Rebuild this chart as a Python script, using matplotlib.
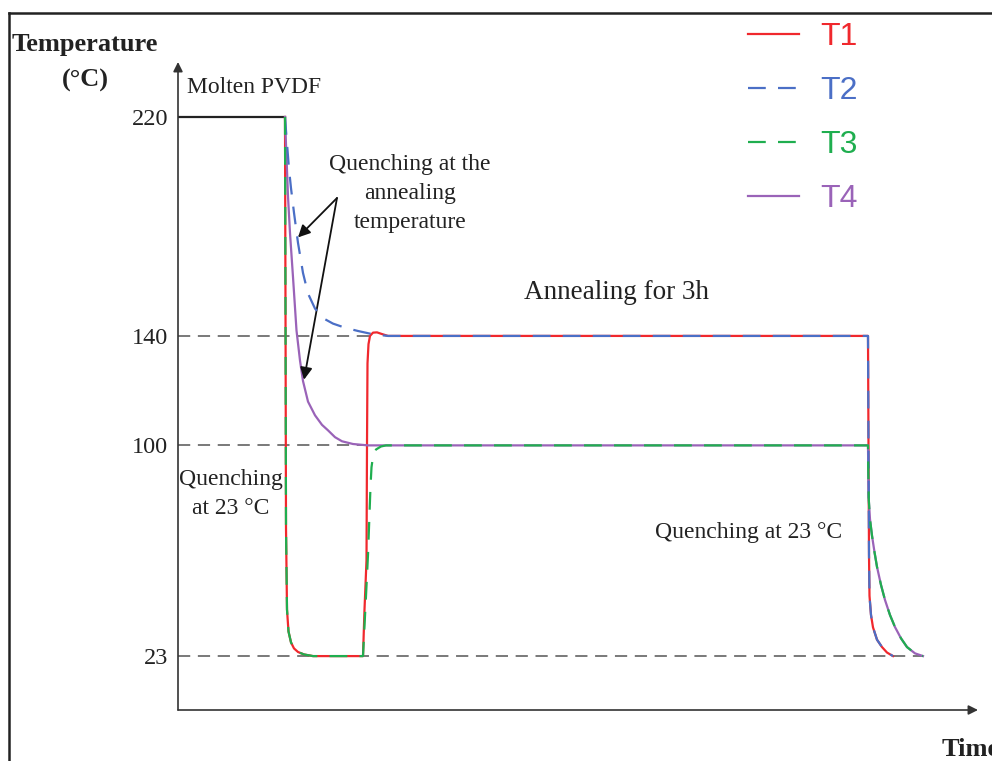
import matplotlib
matplotlib.use("Agg")
import matplotlib.pyplot as plt
from matplotlib.lines import Line2D

# Thermal history of the PVDF samples (arbitrary time units, temperature in °C)
t_molten = [0, 107]
temp_molten = [220, 220]

# melt quenched straight down to 23 °C (T1, T3)
t_quench23 = [107, 107.5, 108, 109, 110.5, 113, 116, 120, 126, 135, 185]
temp_quench23 = [220, 150, 70, 40, 32, 28, 25.8, 24.5, 23.6, 23, 23]

# melt quenched directly to the annealing temperature (T2 -> 140, T4 -> 100)
t_quench140 = [107, 108, 109.5, 111, 113, 116, 120, 125, 130, 137, 145, 155, 167, 180, 195, 210]
temp_quench140 = [220, 215, 208, 201, 194, 185, 174, 163, 155.5, 150, 146.5, 144.5, 143, 141.8, 140.6, 140]
t_quench100 = [107, 108, 110, 112, 115, 118.5, 122, 125, 130, 137, 144, 150, 157, 164, 175, 190]
temp_quench100 = [220, 210, 191, 177.6, 161.5, 142, 131, 123.5, 116, 111, 107.5, 105.5, 103, 101.5, 100.5, 100]

# reheating from 23 °C to the annealing temperature
t_heat140 = [186.5, 188.5, 189, 189.5, 190.5, 192, 195, 199, 203, 210]
temp_heat140 = [40, 58, 100, 130, 137, 140, 141.2, 141.3, 140.8, 140]
t_heat100 = [188, 190, 191.5, 192.5, 193.5, 195, 198, 203, 208]
temp_heat100 = [45, 60, 75, 85, 92, 96, 98.5, 99.6, 100]

# final quench to 23 °C after annealing for 3h
t_final140 = [690, 690.5, 691, 691.5, 693, 695, 699, 704, 709, 715]
temp_final140 = [140, 100, 60, 45, 38, 33.5, 29, 26.3, 24.3, 23]
t_final100 = [690, 690.3, 690.8, 692, 694, 696.5, 699, 703, 707, 712, 717, 723, 729, 737, 745]
temp_final100 = [100, 90, 80, 73, 67, 61, 55.6, 49, 43.5, 38, 33.6, 29.5, 26.3, 24, 23]

# dashed guide lines at the set temperatures
guide_levels = [140, 100, 23]
guide_ends = [197, 190, 745]

ytick_values = [23, 100, 140, 220]
ytick_labels = ["23", "100", "140", "220"]

RED = "#f0282d"
BLUE = "#4b6fc6"
GREEN = "#1fae4f"
PURPLE = "#9a63b8"
INK = "#222222"

plt.rcParams["font.family"] = ["Liberation Serif", "DejaVu Serif"]

fig = plt.figure(figsize=(9.92, 7.61), dpi=100)
ax = fig.add_axes([178 / 992, 51 / 761, 800 / 992, 648 / 761])
ax.set_xlim(0, 800)
ax.set_ylim(3.3, 240.1)
for spine in ax.spines.values():
    spine.set_visible(False)
ax.set_xticks([])
ax.set_yticks(ytick_values, ytick_labels)
ax.tick_params(axis="y", length=0, pad=7, labelsize=17.5, labelcolor=INK)

# axes drawn as arrows
arrow_kw = dict(arrowstyle="-|>", color="#333333", lw=1.2, mutation_scale=14,
                shrinkA=0, shrinkB=0)
ax.annotate("", xy=(0, 1), xytext=(0, 0), xycoords="axes fraction", arrowprops=arrow_kw)
ax.annotate("", xy=(1, 0), xytext=(0, 0), xycoords="axes fraction", arrowprops=arrow_kw)

for level, end in zip(guide_levels, guide_ends):
    ax.plot([0, end], [level, level], color="#555555", lw=1.1, ls=(0, (8, 5)), zorder=1)

ax.plot(t_molten, temp_molten, color=INK, lw=1.6, zorder=2)

t1 = t_quench23 + t_heat140 + t_final140
T1 = temp_quench23 + temp_heat140 + temp_final140
t2 = t_quench140 + t_final140
T2 = temp_quench140 + temp_final140
t3 = t_quench23 + t_heat100 + t_final100
T3 = temp_quench23 + temp_heat100 + temp_final100
t4 = t_quench100 + t_final100
T4 = temp_quench100 + temp_final100

dash = (0, (8, 5.5))
l1, = ax.plot(t1, T1, color=RED, lw=1.6, label="T1", zorder=3)
l4, = ax.plot(t4, T4, color=PURPLE, lw=1.6, label="T4", zorder=3)
l2, = ax.plot(t2, T2, color=BLUE, lw=1.6, ls=dash, label="T2", zorder=4)
l3, = ax.plot(t3, T3, color=GREEN, lw=1.6, ls=dash, label="T3", zorder=4)

ax.legend(handles=[l1, l2, l3, l4], loc="upper left",
          bbox_to_anchor=(748 / 992, 1 - 22 / 761), bbox_transform=fig.transFigure,
          frameon=False, prop={"family": "Liberation Sans", "size": 23},
          handlelength=1.6, handletextpad=0.65, labelspacing=0.75,
          borderpad=0, borderaxespad=0, labelcolor="linecolor")

ax.text(9, 230.6, "Molten PVDF", ha="left", va="center", fontsize=17, color=INK)
ax.text(232, 191.9, "Quenching at the\nannealing\ntemperature", ha="center",
        va="center", linespacing=1.5, fontsize=17, color=INK)
ax.text(439, 155.7, "Annealing for 3h", ha="center", va="center", fontsize=19.5, color=INK)
ax.text(53, 82.2, "Quenching\nat 23 °C", ha="center", va="center", linespacing=1.5,
        fontsize=17, color=INK)
ax.text(571, 68.0, "Quenching at 23 °C", ha="center", va="center", fontsize=17, color=INK)

pointer = dict(arrowstyle="-|>", color="#111111", lw=1.3, mutation_scale=18,
               shrinkA=0, shrinkB=0)
ax.annotate("", xy=(120, 176), xytext=(159, 190.4), arrowprops=pointer)
ax.annotate("", xy=(126, 124), xytext=(159, 190.4), arrowprops=pointer)

fig.text(12 / 992, 1 - 45 / 761, "Temperature", fontsize=19, fontweight="bold",
         ha="left", va="center", color=INK)
fig.text(85 / 992, 1 - 80 / 761, "(°C)", fontsize=19, fontweight="bold",
         ha="center", va="center", color=INK)
fig.text(942 / 992, 1 - 750 / 761, "Time", fontsize=19, fontweight="bold",
         ha="left", va="center", color=INK)

# outer frame
fig.add_artist(Line2D([9 / 992, 1.0], [1 - 13 / 761] * 2, color=INK, lw=1.8))
fig.add_artist(Line2D([9 / 992] * 2, [0.0, 1 - 13 / 761], color=INK, lw=1.8))

fig.savefig("out.png", dpi=100, facecolor="white")
